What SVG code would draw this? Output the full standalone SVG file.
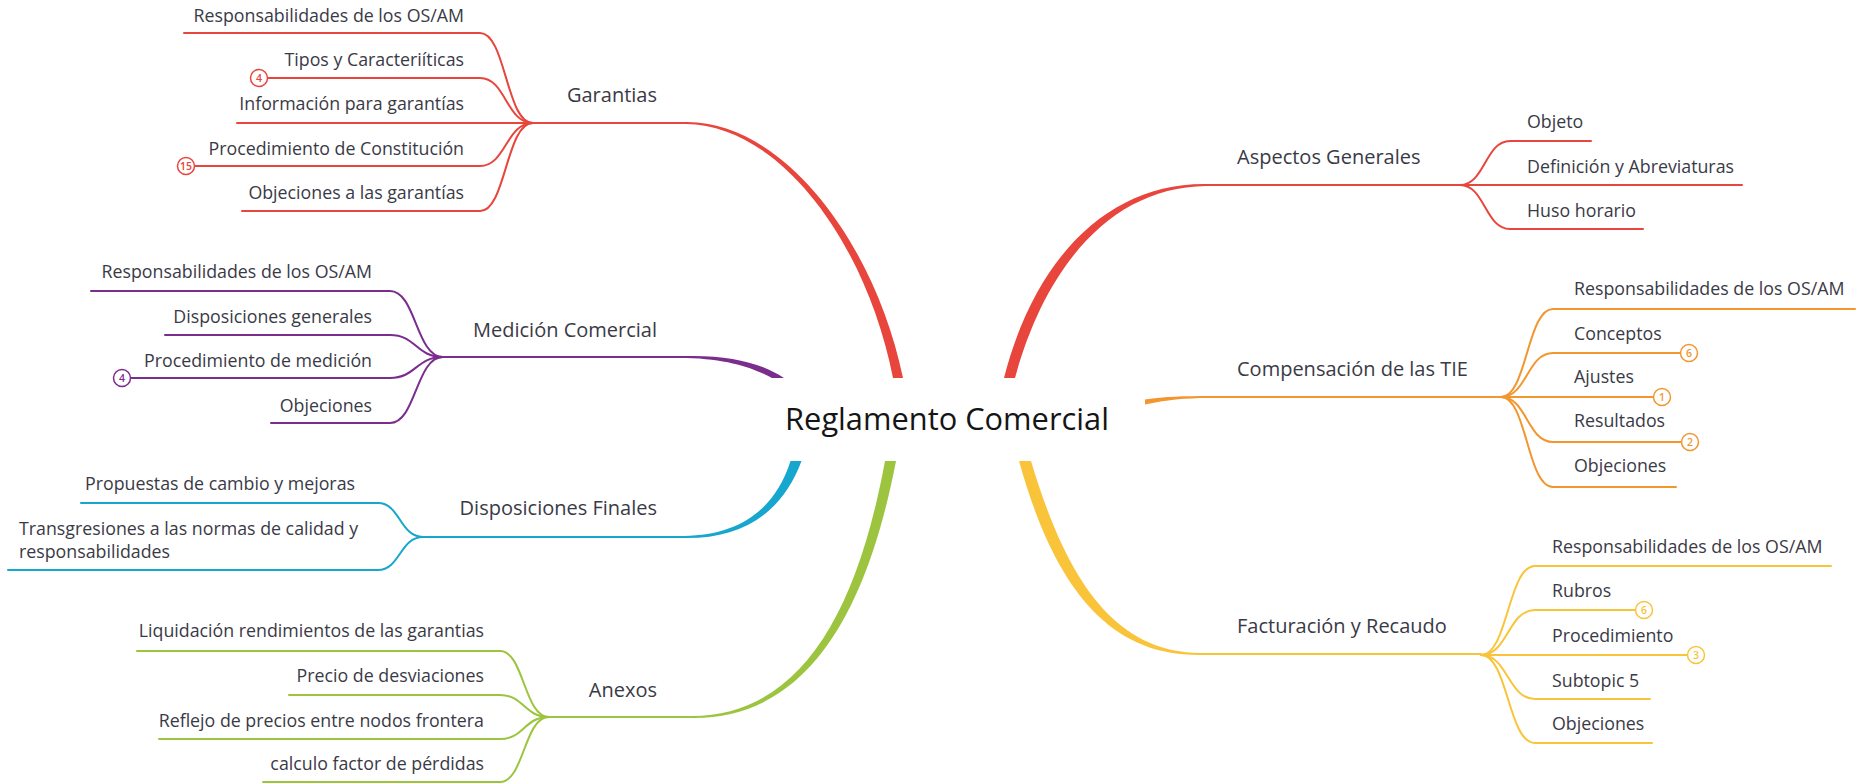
<svg xmlns="http://www.w3.org/2000/svg" width="1864" height="784" viewBox="0 0 1864 784">
<style>
  text { font-family: "Open Sans", "Noto Sans", sans-serif; fill: #3a3a46; }
  .sub { font-size: 17.8px; }
  .main { font-size: 20px; }
  .end { text-anchor: end; }
  .center { font-size: 30.8px; fill: #151515; text-anchor: middle; }
  .ln { fill: none; stroke-width: 2; stroke-linecap: round; }
  .red { stroke: #E8453C; } .redf { fill: #E8453C; }
  .pur { stroke: #7B2D8E; } .purf { fill: #7B2D8E; }
  .cya { stroke: #17A6CE; } .cyaf { fill: #17A6CE; }
  .grn { stroke: #9CC43F; } .grnf { fill: #9CC43F; }
  .org { stroke: #F2962F; } .orgf { fill: #F2962F; }
  .yel { stroke: #F9C43A; } .yelf { fill: #F9C43A; }
  .badge { fill: #fff; stroke-width: 1.5; }
  .bt { font-size: 10.5px; text-anchor: middle; font-weight: 600; }
</style>
<rect width="1864" height="784" fill="#fff"/>
<g id="connectors">
  <!-- main tapered branches -->
  <path class="redf" d="M686,122 C781,121 874,239 903,378 L893,378 C866,241 779,125 686,124 Z"/>
  <path class="redf" d="M1004,378 C1034,260 1107,183 1206,184 L1206,186 C1113,187 1046,264 1015,378 Z"/>
  <path class="purf" d="M686,356 C730,355 761,363 784,378 L772,378 C755,369 730,359 686,358 Z"/>
  <path class="orgf" d="M1145,399.5 C1165,396.5 1185,396 1209,396 L1209,398 C1185,398 1166,400 1145,404.5 Z"/>
  <path class="cyaf" d="M684,538 C741,539 782,514 801.5,461 L790.5,461 C775,510 739,535 684,536 Z"/>
  <path class="grnf" d="M692,718 C802,719 865,622 896,461 L885,461 C856,618 798,715 692,716 Z"/>
  <path class="yelf" d="M1019,461 C1053,583 1106,656 1200,655 L1200,653 C1113,652 1066,578 1031,461 Z"/>
  <!-- straight parts to hubs -->
  <path class="ln red" d="M686,123 H533"/>
  <path class="ln pur" d="M686,357 H443"/>
  <path class="ln cya" d="M684,537 H423"/>
  <path class="ln grn" d="M692,717 H549"/>
  <path class="ln red" d="M1206,185 H1460"/>
  <path class="ln org" d="M1209,397 H1501"/>
  <path class="ln yel" d="M1200,654 H1481"/>
  <!-- Garantias children -->
  <path class="ln red" d="M533,123 C506,123 506,33 480,33 H184"/>
  <path class="ln red" d="M533,123 C506,123 506,78 480,78 H267"/>
  <path class="ln red" d="M533,123 H237"/>
  <path class="ln red" d="M533,123 C506,123 506,166 480,166 H194"/>
  <path class="ln red" d="M533,123 C506,123 506,211 480,211 H242"/>
  <!-- Medicion children -->
  <path class="ln pur" d="M443,357 C416,357 416,291 390,291 H91"/>
  <path class="ln pur" d="M443,357 C416,357 416,335 390,335 H165"/>
  <path class="ln pur" d="M443,357 C416,357 416,378 390,378 H130"/>
  <path class="ln pur" d="M443,357 C416,357 416,423 390,423 H271"/>
  <!-- Disposiciones Finales children -->
  <path class="ln cya" d="M423,537 C400,537 400,503 378,503 H81"/>
  <path class="ln cya" d="M423,537 C400,537 400,570 378,570 H8"/>
  <!-- Anexos children -->
  <path class="ln grn" d="M549,717 C524,717 524,651 500,651 H137"/>
  <path class="ln grn" d="M549,717 C524,717 524,695 500,695 H289"/>
  <path class="ln grn" d="M549,717 C524,717 524,739 500,739 H159"/>
  <path class="ln grn" d="M549,717 C524,717 524,782 500,782 H263"/>
  <!-- Aspectos children -->
  <path class="ln red" d="M1460,185 C1485,185 1485,141 1510,141 H1591"/>
  <path class="ln red" d="M1460,185 H1742"/>
  <path class="ln red" d="M1460,185 C1485,185 1485,229 1510,229 H1643"/>
  <!-- Compensacion children -->
  <path class="ln org" d="M1501,397 C1527,397 1527,309 1553,309 H1855"/>
  <path class="ln org" d="M1501,397 C1527,397 1527,353 1553,353 H1680"/>
  <path class="ln org" d="M1501,397 H1653"/>
  <path class="ln org" d="M1501,397 C1527,397 1527,442 1553,442 H1681"/>
  <path class="ln org" d="M1501,397 C1527,397 1527,487 1553,487 H1676"/>
  <!-- Facturacion children -->
  <path class="ln yel" d="M1481,655 C1508,655 1508,566 1535,566 H1831"/>
  <path class="ln yel" d="M1481,655 C1508,655 1508,610 1535,610 H1635"/>
  <path class="ln yel" d="M1481,655 H1687"/>
  <path class="ln yel" d="M1481,655 C1508,655 1508,699 1535,699 H1650"/>
  <path class="ln yel" d="M1481,655 C1508,655 1508,743 1535,743 H1652"/>
</g>

<g id="central"><text class="center" x="947" y="430">Reglamento Comercial</text></g>

<g id="garantias"><text class="main end" x="657" y="102">Garantias</text></g>
<g id="g-resp"><text class="sub end" x="464" y="22">Responsabilidades de los OS/AM</text></g>
<g id="g-tipos"><text class="sub end" x="464" y="66">Tipos y Caracteriíticas</text>
  <circle class="badge red" cx="259" cy="78" r="8.5"/><text class="bt" x="259" y="81.7" style="fill:#E8453C">4</text></g>
<g id="g-info"><text class="sub end" x="464" y="110">Información para garantías</text></g>
<g id="g-proc"><text class="sub end" x="464" y="155">Procedimiento de Constitución</text>
  <circle class="badge red" cx="186" cy="166" r="8.5"/><text class="bt" x="186" y="169.7" style="fill:#E8453C">15</text></g>
<g id="g-obj"><text class="sub end" x="464" y="199">Objeciones a las garantías</text></g>

<g id="medicion"><text class="main end" x="657" y="337">Medición Comercial</text></g>
<g id="m-resp"><text class="sub end" x="372" y="278">Responsabilidades de los OS/AM</text></g>
<g id="m-disp"><text class="sub end" x="372" y="323">Disposiciones generales</text></g>
<g id="m-proc"><text class="sub end" x="372" y="367">Procedimiento de medición</text>
  <circle class="badge pur" cx="122" cy="378" r="8.5"/><text class="bt" x="122" y="381.7" style="fill:#7B2D8E">4</text></g>
<g id="m-obj"><text class="sub end" x="372" y="412">Objeciones</text></g>

<g id="disposiciones"><text class="main end" x="657" y="515">Disposiciones Finales</text></g>
<g id="d-prop"><text class="sub end" x="355" y="490">Propuestas de cambio y mejoras</text></g>
<g id="d-trans"><text class="sub" x="19" y="535">Transgresiones a las normas de calidad y</text><text class="sub" x="19" y="558">responsabilidades</text></g>

<g id="anexos"><text class="main end" x="657" y="697">Anexos</text></g>
<g id="a-liq"><text class="sub end" x="484" y="637">Liquidación rendimientos de las garantias</text></g>
<g id="a-precio"><text class="sub end" x="484" y="682">Precio de desviaciones</text></g>
<g id="a-reflejo"><text class="sub end" x="484" y="727">Reflejo de precios entre nodos frontera</text></g>
<g id="a-calculo"><text class="sub end" x="484" y="770">calculo factor de pérdidas</text></g>

<g id="aspectos"><text class="main" x="1237" y="164">Aspectos Generales</text></g>
<g id="as-objeto"><text class="sub" x="1527" y="128">Objeto</text></g>
<g id="as-def"><text class="sub" x="1527" y="173">Definición y Abreviaturas</text></g>
<g id="as-huso"><text class="sub" x="1527" y="217">Huso horario</text></g>

<g id="compensacion"><text class="main" x="1237" y="376">Compensación de las TIE</text></g>
<g id="c-resp"><text class="sub" x="1574" y="295">Responsabilidades de los OS/AM</text></g>
<g id="c-conceptos"><text class="sub" x="1574" y="340">Conceptos</text>
  <circle class="badge org" cx="1689" cy="353" r="8.5"/><text class="bt" x="1689" y="356.7" style="fill:#F2962F">6</text></g>
<g id="c-ajustes"><text class="sub" x="1574" y="383">Ajustes</text>
  <circle class="badge org" cx="1662" cy="397" r="8.5"/><text class="bt" x="1662" y="400.7" style="fill:#F2962F">1</text></g>
<g id="c-resultados"><text class="sub" x="1574" y="427">Resultados</text>
  <circle class="badge org" cx="1690" cy="442" r="8.5"/><text class="bt" x="1690" y="445.7" style="fill:#F2962F">2</text></g>
<g id="c-obj"><text class="sub" x="1574" y="472">Objeciones</text></g>

<g id="facturacion"><text class="main" x="1237" y="633">Facturación y Recaudo</text></g>
<g id="f-resp"><text class="sub" x="1552" y="553">Responsabilidades de los OS/AM</text></g>
<g id="f-rubros"><text class="sub" x="1552" y="597">Rubros</text>
  <circle class="badge yel" cx="1644" cy="610" r="8.5"/><text class="bt" x="1644" y="613.7" style="fill:#F9C43A">6</text></g>
<g id="f-proc"><text class="sub" x="1552" y="642">Procedimiento</text>
  <circle class="badge yel" cx="1696" cy="655" r="8.5"/><text class="bt" x="1696" y="658.7" style="fill:#F9C43A">3</text></g>
<g id="f-sub5"><text class="sub" x="1552" y="687">Subtopic 5</text></g>
<g id="f-obj"><text class="sub" x="1552" y="730">Objeciones</text></g>
</svg>
